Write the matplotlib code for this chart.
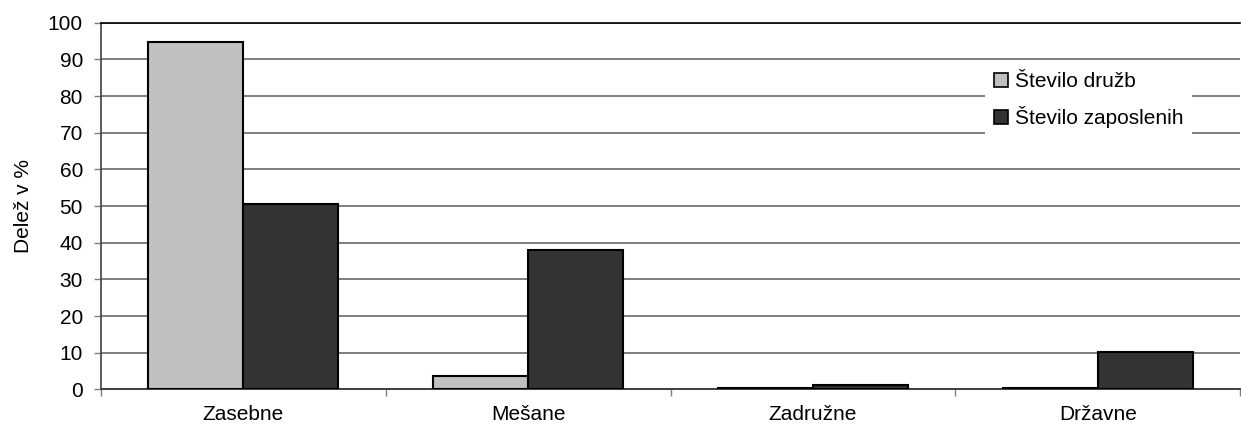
import numpy as np
import matplotlib
matplotlib.use("Agg")
import matplotlib.pyplot as plt

# ---------------------------------------------------------------------------
# Data
# ---------------------------------------------------------------------------
categories = ["Zasebne", "Mešane", "Zadružne", "Državne"]
stevilo_druzb = [94.7, 3.7, 0.5, 0.5]
stevilo_zaposlenih = [50.6, 38.1, 1.2, 10.3]
series_labels = ["Število družb", "Število zaposlenih"]
y_ticks = list(range(0, 101, 10))

LIGHT = "#C0C0C0"
DARK = "#333333"
GRID = "#7F7F7F"
FS = 15

plt.rcParams["font.family"] = ["Liberation Sans", "DejaVu Sans"]

fig = plt.figure(figsize=(12.41, 4.30), dpi=100)
ax = fig.add_axes([0.0814, 0.0942, 0.918, 0.853])

x = np.arange(len(categories))
w = 1 / 3
ax.bar(x - w / 2, stevilo_druzb, width=w, color=LIGHT, edgecolor="black",
       linewidth=1.5, label=series_labels[0], zorder=3)
ax.bar(x + w / 2, stevilo_zaposlenih, width=w, color=DARK, edgecolor="black",
       linewidth=1.5, label=series_labels[1], zorder=3)

ax.set_xlim(-0.5, len(categories) - 0.5)
ax.set_ylim(0, 100)
ax.set_yticks(y_ticks)
ax.yaxis.grid(True, color=GRID, linewidth=1.4, zorder=0)
ax.set_axisbelow(True)

ax.set_xticks(x)
ax.set_xticklabels(categories, fontsize=FS)
ax.set_xticks(np.arange(len(categories) + 1) - 0.5, minor=True)
ax.tick_params(axis="x", which="major", length=0, pad=11)
ax.tick_params(axis="x", which="minor", length=5, width=1, color=GRID, direction="out")
ax.tick_params(axis="y", labelsize=FS, length=5, width=1, color=GRID, pad=8)

ax.spines["right"].set_visible(False)
ax.spines["top"].set_color("black")
ax.spines["top"].set_linewidth(1.2)
ax.spines["left"].set_color("#404040")
ax.spines["left"].set_linewidth(1.2)
ax.spines["bottom"].set_color("#404040")
ax.spines["bottom"].set_linewidth(1.4)

ax.set_ylabel("Delež v %", fontsize=FS, labelpad=11)

leg = ax.legend(loc="center left", bbox_to_anchor=(0.794, 0.767),
                bbox_transform=fig.transFigure, fontsize=FS,
                frameon=True, fancybox=False, framealpha=1,
                handlelength=0.67, handleheight=0.67, handletextpad=0.35,
                labelspacing=0.73, borderpad=0.4, borderaxespad=0)
leg.get_frame().set_edgecolor("white")
leg.get_frame().set_linewidth(0)
for h in leg.legend_handles:
    h.set_linewidth(1.2)

fig.savefig("out.png", dpi=100, facecolor="white")
